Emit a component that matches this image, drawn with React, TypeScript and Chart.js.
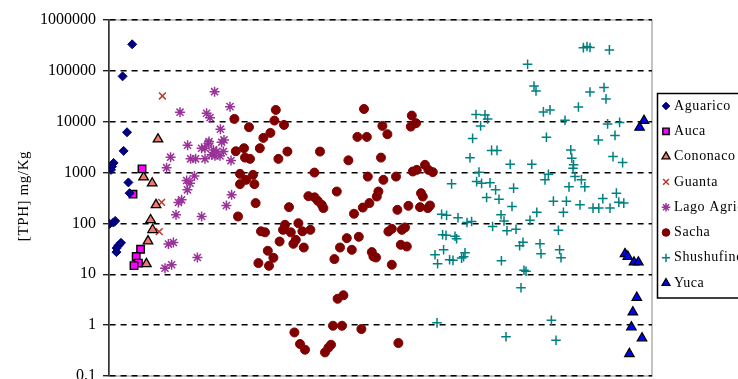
import { useEffect, useRef } from "react";
import { Chart, registerables } from "chart.js";

Chart.register(...registerables);

// Sample position (x) and TPH concentration in mg/Kg (y) for each oil field
const aguarico: [number, number][] = [
  [11.6, 333000], [6.8, 78000], [9, 6200], [7.3, 2670], [2.3, 1550], [1.5, 1310],
  [1, 1130], [9.7, 640], [10.3, 394], [0.3, 98], [2.2, 104], [3.1, 112],
  [6, 41.6], [4.7, 36.8], [3.8, 32.7], [3.7, 27.3],
];
const auca: [number, number][] = [
  [16.5, 1180], [12, 376], [15.8, 31], [13.6, 22.3], [14.7, 16.6], [12.5, 14.8],
];
const cononaco: [number, number][] = [
  [24.5, 4530], [17.3, 811], [21.6, 618], [23.5, 232], [20.8, 117], [21.8, 75],
  [19.5, 45], [18.7, 16],
];
const guanta: [number, number][] = [[26.7, 32100], [26.3, 259], [25.1, 69]];
const lagoAgrio: [number, number][] = [
  [52.8, 39000], [35.5, 15400], [48.8, 14700], [50.5, 12000], [60.5, 19800],
  [55.7, 7130], [57.5, 4390], [56.3, 3950], [39.3, 3450], [49.7, 3780],
  [46.3, 3010], [48, 3010], [52.2, 2790], [53.8, 2590], [57.2, 2590],
  [30.8, 2010], [40.8, 1860], [43.3, 1860], [48, 1860], [53, 2130],
  [61, 1720], [28.8, 1250], [42.7, 861], [38.8, 697], [40.5, 619],
  [39.2, 457], [61.3, 365], [36.3, 291], [34.7, 258], [58.7, 225],
  [33.5, 148], [46.3, 137], [29.7, 39.2], [32.2, 42.1], [44.2, 21.4],
  [28, 13.2], [31.3, 15.4], [51.3, 2230], [55.5, 2130], [50, 4060],
];
const sacha: [number, number][] = [
  [62.7, 11350], [70, 7800], [77.2, 4810], [80.7, 6030], [83.4, 17060],
  [82.7, 10520], [87.5, 8650], [63.4, 2630], [67.5, 3010], [75.4, 3010],
  [68, 1970], [70.5, 1860], [84.7, 1860], [89.2, 2590], [65.5, 944],
  [72, 902], [68.5, 719], [65.5, 592], [72.7, 592], [73.3, 251],
  [64.5, 137], [90, 209], [76, 70], [78, 66.8], [79.4, 29],
  [82.2, 21.1], [74.7, 16.6], [80, 14.7], [85.3, 44.1], [88, 94],
  [87, 74.8], [90.9, 66.8], [93.4, 47.6], [92.2, 39.7], [94.7, 101],
  [96.7, 70], [97.4, 33.6], [100.7, 74.8], [92.7, 0.719], [95.5, 0.426],
  [98, 0.329], [108, 0.291], [109.7, 0.36], [111, 0.412], [112, 0.973],
  [116.5, 0.973], [114.3, 3.3], [117.2, 3.87], [126.2, 0.839], [144.7, 0.445],
  [105.5, 2590], [102.7, 1000], [99.7, 344], [102.8, 326], [104.4, 278],
  [106.4, 232], [107.2, 200], [113.9, 424], [112.7, 19.9], [118.9, 51.4],
  [115.5, 33.6], [121.4, 30.3], [124.9, 54.6], [127.5, 17800], [124.2, 5030],
  [128.9, 5030], [136.7, 8270], [139.2, 5680], [151.4, 13200], [153.5, 9350],
  [150.9, 8010], [119.7, 1740], [136, 1970], [129.4, 834], [137.2, 719],
  [143.5, 834], [158, 1420], [153.9, 1130], [151.9, 1050], [159.7, 1130],
  [161.9, 1020], [134.7, 424], [133.9, 338], [156, 394], [156.9, 338],
  [130.2, 251], [126.9, 205], [122.5, 155], [149.7, 222], [144.2, 185],
  [155.5, 209], [160.5, 225], [159.4, 200], [139.7, 69.3], [141.4, 78.3],
  [146.4, 74.8], [148, 83.2], [131.4, 27.3], [132.2, 22.4], [133.5, 21.4],
  [145.9, 38], [148.9, 35.2], [141.4, 15.4],
];
const shushufindi: [number, number][] = [
  [164, 1.11], [163, 24.2], [164.3, 16.1], [167.3, 30.3], [170.3, 19.3],
  [172, 18.8], [176.3, 20.8], [178, 26.5], [177.3, 22.1], [166.8, 59.7],
  [168.5, 58.3], [173, 55.8], [173.8, 49.9], [166.3, 151], [168.8, 144],
  [174.5, 129], [179, 104], [181.3, 109], [171.3, 600], [180.5, 1950],
  [181.8, 4700], [183.5, 13900], [188, 13600], [189.3, 11350], [185.8, 8270],
  [191.3, 2730], [194, 2730], [183.8, 665], [186.3, 614], [190.5, 628],
  [193.3, 457], [188.8, 323], [195, 298], [185, 1020], [191.8, 86.9],
  [196, 148], [197.5, 112], [199, 71.6], [203.5, 76.6], [196.2, 18.4],
  [200.6, 1460], [202.3, 494], [201.5, 215], [205.3, 36.3], [207, 42.6],
  [207.5, 12], [208.5, 11.5], [206, 5.43], [198.5, 0.592], [209.3, 135000],
  [212.5, 50500], [213.5, 40300], [211.4, 1460], [210.5, 115], [213.9, 165],
  [215.5, 39.7], [216, 25.3], [217.2, 15600], [220.5, 17060], [218.7, 4960],
  [219.7, 923], [218, 719], [222.2, 274], [228.7, 274], [227.2, 165],
  [224.7, 73.3], [225.3, 30.3], [226, 21.1], [221.2, 1.25], [223.5, 0.505],
  [228, 10700], [234.7, 19500], [240.5, 38500], [247.5, 47200], [248.5, 28100],
  [237.2, 286000], [239, 301000], [240.5, 288000], [250.2, 258000], [249.3, 9060],
  [255.3, 9690], [253, 5380], [244.7, 4390], [230.9, 2790], [231.4, 1920],
  [232.3, 1420], [232, 1210], [252, 2060], [256.8, 1570], [233, 834],
  [236.2, 719], [237.9, 524], [230, 524], [246.9, 308], [253.7, 394],
  [254.9, 262], [257.4, 251], [235.5, 232], [242, 200], [244.9, 200],
  [250.5, 200],
];
const yuca: [number, number][] = [
  [267.5, 10500], [265.3, 7720], [258, 25.2], [259.4, 22.3], [262.5, 17.3],
  [264.7, 17.3], [263.9, 3.49], [261.9, 1.8], [261.2, 0.916], [266.5, 0.556],
  [260.2, 0.273],
];

const yTickValues = [0.1, 1, 10, 100, 1000, 10000, 100000, 1000000];
const yTickLabels = ["0.1", "1", "10", "100", "1000", "10000", "100000", "1000000"];
const yTitle = "[TPH] mg/Kg";

type Marker = {
  label: string;
  points: [number, number][];
  style: string;
  radius: number;
  fill: string;
  stroke: string;
  lineWidth: number;
};

const series: Marker[] = [
  { label: "Aguarico", points: aguarico, style: "rectRot", radius: 4.5, fill: "#000080", stroke: "#000080", lineWidth: 1 },
  { label: "Auca", points: auca, style: "rect", radius: 5.3, fill: "#FF00FF", stroke: "#000000", lineWidth: 1.4 },
  { label: "Cononaco", points: cononaco, style: "triangle", radius: 5.5, fill: "#F0786C", stroke: "#000000", lineWidth: 1.3 },
  { label: "Guanta", points: guanta, style: "crossRot", radius: 4.8, fill: "#B83A2E", stroke: "#B83A2E", lineWidth: 1.5 },
  { label: "Lago Agrio", points: lagoAgrio, style: "star", radius: 5, fill: "#993399", stroke: "#993399", lineWidth: 1.5 },
  { label: "Sacha", points: sacha, style: "circle", radius: 4.5, fill: "#800000", stroke: "#800000", lineWidth: 1 },
  { label: "Shushufindi", points: shushufindi, style: "cross", radius: 4.8, fill: "#008080", stroke: "#008080", lineWidth: 1.5 },
  { label: "Yuca", points: yuca, style: "triangle", radius: 5.5, fill: "#0000FF", stroke: "#000000", lineWidth: 1.2 },
];

const SERIF = "'Liberation Serif', 'Times New Roman', serif";

function drawMarker(ctx: CanvasRenderingContext2D, m: Marker, x: number, y: number) {
  const r = m.radius;
  ctx.save();
  ctx.fillStyle = m.fill;
  ctx.strokeStyle = m.stroke;
  ctx.lineWidth = m.lineWidth;
  ctx.beginPath();
  const d = r * Math.SQRT1_2;
  switch (m.style) {
    case "circle":
      ctx.arc(x, y, r, 0, Math.PI * 2);
      ctx.fill();
      ctx.stroke();
      break;
    case "rectRot":
      ctx.moveTo(x, y - r);
      ctx.lineTo(x + r, y);
      ctx.lineTo(x, y + r);
      ctx.lineTo(x - r, y);
      ctx.closePath();
      ctx.fill();
      ctx.stroke();
      break;
    case "rect":
      ctx.rect(x - d, y - d, 2 * d, 2 * d);
      ctx.fill();
      ctx.stroke();
      break;
    case "triangle": {
      const s = Math.sin(Math.PI / 3) * r;
      ctx.moveTo(x, y - r);
      ctx.lineTo(x + s, y + r / 2);
      ctx.lineTo(x - s, y + r / 2);
      ctx.closePath();
      ctx.fill();
      ctx.stroke();
      break;
    }
    case "cross":
      ctx.moveTo(x, y - r);
      ctx.lineTo(x, y + r);
      ctx.moveTo(x - r, y);
      ctx.lineTo(x + r, y);
      ctx.stroke();
      break;
    case "crossRot":
      ctx.moveTo(x - d, y - d);
      ctx.lineTo(x + d, y + d);
      ctx.moveTo(x - d, y + d);
      ctx.lineTo(x + d, y - d);
      ctx.stroke();
      break;
    case "star":
      ctx.moveTo(x, y - r);
      ctx.lineTo(x, y + r);
      ctx.moveTo(x - r, y);
      ctx.lineTo(x + r, y);
      ctx.moveTo(x - d, y - d);
      ctx.lineTo(x + d, y + d);
      ctx.moveTo(x - d, y + d);
      ctx.lineTo(x + d, y - d);
      ctx.stroke();
      break;
  }
  ctx.restore();
}

// Light frame around the plotting area, drawn under grid and points
const framePlugin = {
  id: "plotFrame",
  beforeDraw(chart: Chart) {
    const { ctx, chartArea: a } = chart;
    ctx.save();
    ctx.strokeStyle = "#9c9c9c";
    ctx.lineWidth = 1.2;
    ctx.strokeRect(a.left, a.top, a.right - a.left, a.bottom - a.top);
    ctx.restore();
  },
};

// Rotated axis title plus the boxed legend on the right
const annotationPlugin = {
  id: "titleAndLegend",
  afterDraw(chart: Chart) {
    const { ctx, chartArea: a } = chart;
    ctx.save();
    ctx.fillStyle = "#000";
    ctx.font = `15px ${SERIF}`;
    (ctx as any).letterSpacing = "0.6px";
    ctx.textAlign = "center";
    ctx.textBaseline = "middle";
    ctx.translate(24, (a.top + a.bottom) / 2 - 2);
    ctx.rotate(-Math.PI / 2);
    ctx.fillText(yTitle, 0, 0);
    ctx.restore();

    const boxX = a.right + 5;
    const boxY = 93;
    const rowH = 25.3;
    ctx.save();
    ctx.fillStyle = "#fff";
    ctx.fillRect(boxX, boxY, 120, 205);
    ctx.strokeStyle = "#000";
    ctx.lineWidth = 1.5;
    ctx.strokeRect(boxX + 0.5, boxY + 0.5, 120, 204.5);
    ctx.font = `14px ${SERIF}`;
    (ctx as any).letterSpacing = "0.6px";
    ctx.textAlign = "left";
    ctx.textBaseline = "middle";
    series.forEach((m, i) => {
      const cy = boxY + 13 + i * rowH;
      drawMarker(ctx, { ...m, radius: m.radius * 0.85 }, boxX + 9, cy);
      ctx.fillStyle = "#000";
      ctx.fillText(m.label, boxX + 17, cy);
    });
    ctx.restore();
  },
};

export default function App() {
  const canvasRef = useRef<HTMLCanvasElement>(null);

  useEffect(() => {
    const canvas = canvasRef.current;
    if (!canvas) return;
    const chart = new Chart(canvas, {
      type: "scatter",
      data: {
        datasets: series.map((m) => ({
          label: m.label,
          data: m.points.map(([x, y]) => ({ x, y })),
          pointStyle: m.style as any,
          pointRadius: m.radius,
          pointBackgroundColor: m.fill,
          pointBorderColor: m.stroke,
          pointBorderWidth: m.lineWidth,
          showLine: false,
        })),
      },
      options: {
        animation: false,
        responsive: false,
        devicePixelRatio: 1,
        events: [],
        layout: { padding: { top: 20, right: 86, bottom: 24, left: 0 } },
        plugins: {
          legend: { display: false },
          tooltip: { enabled: false },
          title: { display: false },
        },
        scales: {
          x: {
            type: "linear",
            display: false,
            min: 0,
            max: 271.5,
          },
          y: {
            type: "logarithmic",
            min: 0.1,
            max: 1000000,
            afterBuildTicks: (scale: any) => {
              scale.ticks = yTickValues.map((v) => ({ value: v }));
            },
            afterFit: (scale: any) => {
              scale.width = 109;
            },
            ticks: {
              autoSkip: false,
              padding: 7,
              color: "#000",
              font: { family: SERIF, size: 16 },
              callback: (value: any) => {
                const i = yTickValues.indexOf(Number(value));
                return i >= 0 ? yTickLabels[i] : "";
              },
            },
            grid: {
              color: "#000",
              lineWidth: 1.4,
              drawTicks: true,
              tickLength: 6,
              tickColor: "#222",
              tickWidth: 1.4,
              tickBorderDash: [],
            },
            border: {
              display: true,
              color: "#333",
              width: 1.6,
              dash: [6, 5],
            },
          },
        },
      },
      plugins: [framePlugin, annotationPlugin],
    });
    return () => chart.destroy();
  }, []);

  return (
    <div
      style={{
        position: "fixed",
        left: 0,
        top: 0,
        width: 738,
        height: 379,
        overflow: "hidden",
        background: "#fff",
      }}
    >
      <canvas
        ref={canvasRef}
        width={738}
        height={400}
        style={{ display: "block", width: 738, height: 400 }}
      />
    </div>
  );
}
